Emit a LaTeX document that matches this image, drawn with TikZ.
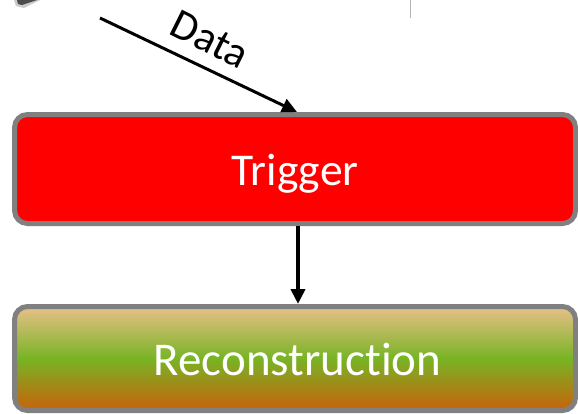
\documentclass[tikz,border=0pt]{standalone}
\usepackage{fontspec}
\setmainfont[Ligatures=NoCommon]{Carlito}
\usetikzlibrary{arrows.meta}
\definecolor{boxgray}{HTML}{808080}
\definecolor{recotop}{HTML}{E9C089}
\definecolor{recomid}{HTML}{78B424}
\definecolor{recobot}{HTML}{C8620C}
\tikzset{
  stage/.style={draw=boxgray, line width=5pt, rounded corners=13pt,
    minimum width=561pt, text=white},
  flow/.style={-{Triangle[length=15pt,width=14pt]}, line width=3pt}
}
\begin{document}
\begin{tikzpicture}[x=1pt,y=-1pt]
\useasboundingbox (0,0) rectangle (578,413);
% fragment of a shape cut by the top edge
\fill[black!20] (14,0) -- (40,0) -- (24,8) -- (16,6) -- cycle;
\fill[black!70] (17,0) -- (37,0) -- (22,5) -- (18,4) -- cycle;
\draw[black!30, line width=1pt] (410.5,0) -- (410.5,18);
% processing stages
\node[stage, fill=red, minimum height=109pt] (trig) at (295,169) {};
\node[text=white, anchor=base, font=\fontsize{45.5}{48}\selectfont]
  (trigText) at (295,185) {Trigger};
\node[stage, top color=recotop, bottom color=recobot, middle color=recomid,
  minimum height=104pt] (reco) at (295,358.5) {};
\node[text=white, anchor=base, font=\fontsize{47}{50}\selectfont]
  (recoText) at (297.5,375) {Reconstruction};
% incoming data
\coordinate (dataStart) at (100,18);
\path (trig.north) ++(2,0) coordinate (dataEnd);
\draw[flow] (dataStart) -- (dataEnd);
\node[rotate=-26.5, anchor=base, font=\fontsize{43}{46}\selectfont]
  (dataText) at (204,52) {Data};
\draw[flow, line width=4pt] ([xshift=3pt]trig.south) -- ([xshift=3pt]reco.north);
\end{tikzpicture}
\end{document}
